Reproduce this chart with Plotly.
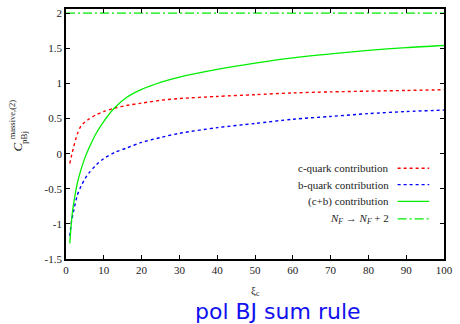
import plotly.graph_objects as go

# data
xi = [1, 1.5, 2, 3, 4, 5, 6, 8, 10, 13, 16, 20, 25, 30, 40, 50, 60, 70, 80, 90, 100]
c_quark = [-0.14, -0.02, 0.09, 0.28, 0.40, 0.45, 0.49, 0.555, 0.60, 0.65, 0.685, 0.72,
           0.76, 0.785, 0.815, 0.84, 0.865, 0.88, 0.89, 0.90, 0.91]
b_quark = [-1.17, -0.95, -0.82, -0.59, -0.46, -0.36, -0.28, -0.16, -0.07, 0.02, 0.08, 0.16,
           0.23, 0.29, 0.37, 0.43, 0.49, 0.53, 0.57, 0.60, 0.62]
cb_sum = [-1.28, -0.93, -0.72, -0.42, -0.22, -0.06, 0.07, 0.29, 0.46, 0.66, 0.80, 0.915,
          1.015, 1.09, 1.20, 1.29, 1.365, 1.42, 1.47, 1.51, 1.54]
nf_x = [0, 100]
nf_y = [2, 2]

x_ticks = [0, 10, 20, 30, 40, 50, 60, 70, 80, 90, 100]
y_ticks = [-1.5, -1, -0.5, 0, 0.5, 1, 1.5, 2]
y_tick_text = ["-1.5", "-1", "-0.5", "0", "0.5", "1", "1.5", "2"]

legend_labels = ["c-quark contribution", "b-quark contribution", "(c+b) contribution",
                 "<i>N<sub>F</sub></i> → <i>N<sub>F</sub></i> + 2"]
colors = ["#ff0000", "#0000ff", "#00ee00", "#00ee00"]
dashes = ["3px,3px", "3px,3px", "solid", "9px,3px,2px,3px"]

fig = go.Figure()
fig.add_trace(go.Scatter(x=nf_x, y=nf_y, mode="lines",
                         line=dict(color=colors[3], width=1.3, dash=dashes[3])))
fig.add_trace(go.Scatter(x=xi, y=c_quark, mode="lines", line_shape="spline",
                         line=dict(color=colors[0], width=1.4, dash=dashes[0], smoothing=0.8)))
fig.add_trace(go.Scatter(x=xi, y=b_quark, mode="lines", line_shape="spline",
                         line=dict(color=colors[1], width=1.4, dash=dashes[1], smoothing=0.8)))
fig.add_trace(go.Scatter(x=xi, y=cb_sum, mode="lines", line_shape="spline",
                         line=dict(color=colors[2], width=1.3, dash=dashes[2], smoothing=0.8)))

serif = "Liberation Serif, DejaVu Serif, serif"
tickfont = dict(family=serif, size=11, color="#222")

plot_left, plot_top, plot_w, plot_h = 66, 7, 383, 252

def px(xp):
    return (xp - plot_left) / plot_w

def py(yp):
    return (plot_top + plot_h - yp) / plot_h

fig.update_layout(
    width=460, height=324,
    margin=dict(l=66, r=11, t=7, b=65),
    paper_bgcolor="white", plot_bgcolor="white",
    showlegend=False,
    xaxis=dict(range=[0, 100], tickvals=x_ticks, ticks="inside", ticklen=4,
               tickwidth=1.2, tickcolor="black", showline=True, linecolor="black",
               linewidth=1.8, mirror="ticks", showgrid=False, zeroline=False,
               tickfont=tickfont),
    yaxis=dict(range=[-1.5, 2.06], tickvals=y_ticks, ticktext=y_tick_text, ticks="inside",
               ticklen=4, tickwidth=1.2, tickcolor="black", showline=True,
               linecolor="black", linewidth=1.8, mirror="ticks", showgrid=False,
               zeroline=False, tickfont=tickfont),
)

# x-axis title
fig.add_annotation(xref="paper", yref="paper", x=px(258), y=py(291),
                   text="ξ<sub>c</sub>", showarrow=False, xanchor="center", yanchor="middle",
                   font=dict(family=serif, size=11, color="#222"))

# y-axis title (C with stacked sub/superscript)
fig.add_annotation(xref="paper", yref="paper", x=px(16.5), y=py(146.5), textangle=-90,
                   text="<i>C</i>", showarrow=False, xanchor="center", yanchor="middle",
                   font=dict(family=serif, size=13, color="#222"))
fig.add_annotation(xref="paper", yref="paper", x=px(23.5), y=py(137), textangle=-90,
                   text="pBj", showarrow=False, xanchor="center", yanchor="middle",
                   font=dict(family=serif, size=9, color="#222"))
fig.add_annotation(xref="paper", yref="paper", x=px(11.5), y=py(118), textangle=-90,
                   text="massive,(2)", showarrow=False, xanchor="center", yanchor="middle",
                   font=dict(family=serif, size=8.5, color="#222"))

# bottom caption
fig.add_annotation(xref="paper", yref="paper", x=px(280.5), y=py(312), yanchor="middle",
                   text="pol BJ sum rule", showarrow=False,
                   font=dict(family="DejaVu Sans, sans-serif", size=22, color="#1010f0"))

# legend (gnuplot style: text right, sample at the right)
leg_y_px = [167.5, 184, 201, 218.5]
for lab, col, dsh, ypx in zip(legend_labels, colors, dashes, leg_y_px):
    fig.add_annotation(xref="paper", yref="paper", x=px(395), y=py(ypx),
                       text=lab, showarrow=False, xanchor="right", yanchor="middle",
                       font=dict(family=serif, size=11, color="#222"))
    fig.add_shape(type="line", xref="paper", yref="paper",
                  x0=px(402), x1=px(434), y0=py(ypx), y1=py(ypx),
                  line=dict(color=col, width=1.3, dash=dsh))

post = (
    "document.documentElement.style.overflow='hidden';"
    "document.body.style.margin='0';document.body.style.padding='0';"
    "document.body.style.overflow='hidden';"
    "var gd=document.getElementById('{plot_id}');"
    "var s=window.innerWidth/460, t=window.innerHeight/324;"
    "if(!(s>1.002&&s<1.1)) s=1; if(!(t>1.002&&t<1.1)) t=1;"
    "gd.style.transformOrigin='0 0';gd.style.transform='scale('+s+','+t+')';"
)
fig.write_html("out.html", config={"displayModeBar": False}, post_script=post)
